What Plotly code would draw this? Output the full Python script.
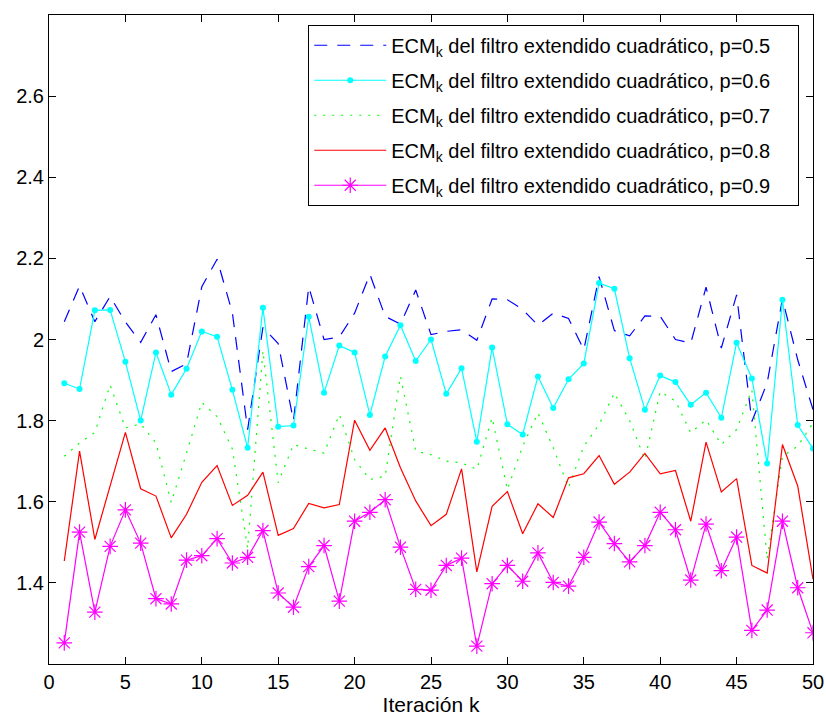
import plotly.graph_objects as go

k = list(range(1, 51))

p05 = [2.044, 2.132, 2.044, 2.106, 2.043, 1.993, 2.061, 1.921, 1.940, 2.130,
       2.198, 2.066, 1.778, 2.030, 1.990, 1.800, 2.130, 2.000, 2.006, 2.065,
       2.161, 2.057, 2.038, 2.122, 2.012, 2.020, 2.024, 1.998, 2.100, 2.098,
       2.074, 2.035, 2.065, 2.052, 1.975, 2.155, 2.022, 2.009, 2.058, 2.057,
       2.000, 1.991, 2.129, 1.979, 2.110, 1.798, 1.893, 2.100, 1.950, 1.827]

p06 = [1.892, 1.878, 2.072, 2.073, 1.945, 1.800, 1.968, 1.864, 1.928, 2.020,
       2.007, 1.876, 1.733, 2.078, 1.785, 1.788, 2.056, 1.869, 1.985, 1.968,
       1.814, 1.958, 2.035, 1.947, 2.000, 1.866, 1.929, 1.748, 1.980, 1.791,
       1.766, 1.909, 1.831, 1.902, 1.941, 2.139, 2.125, 1.954, 1.827, 1.911,
       1.895, 1.839, 1.869, 1.807, 1.992, 1.904, 1.694, 2.098, 1.789, 1.731]

p07 = [1.712, 1.745, 1.771, 1.888, 1.782, 1.792, 1.745, 1.598, 1.720, 1.845,
       1.810, 1.730, 1.485, 1.972, 1.647, 1.741, 1.730, 1.720, 1.815, 1.704,
       1.655, 1.663, 1.910, 1.725, 1.716, 1.700, 1.696, 1.680, 1.807, 1.630,
       1.737, 1.819, 1.733, 1.635, 1.737, 1.790, 1.868, 1.800, 1.704, 1.872,
       1.848, 1.770, 1.802, 1.741, 1.778, 1.876, 1.458, 1.712, 1.737, 1.794]

p08 = [1.454, 1.725, 1.507, 1.638, 1.771, 1.632, 1.614, 1.511, 1.569, 1.648,
       1.689, 1.591, 1.616, 1.673, 1.517, 1.534, 1.596, 1.585, 1.593, 1.801,
       1.727, 1.782, 1.684, 1.602, 1.541, 1.569, 1.681, 1.427, 1.589, 1.625,
       1.521, 1.595, 1.561, 1.659, 1.669, 1.714, 1.643, 1.673, 1.719, 1.669,
       1.677, 1.552, 1.747, 1.624, 1.657, 1.443, 1.424, 1.741, 1.639, 1.409]

p09 = [1.252, 1.525, 1.328, 1.490, 1.580, 1.498, 1.361, 1.348, 1.456, 1.467,
       1.509, 1.449, 1.463, 1.529, 1.375, 1.340, 1.440, 1.492, 1.355, 1.552,
       1.574, 1.605, 1.488, 1.384, 1.382, 1.443, 1.461, 1.244, 1.398, 1.443,
       1.404, 1.474, 1.401, 1.392, 1.463, 1.550, 1.497, 1.452, 1.492, 1.574,
       1.531, 1.407, 1.545, 1.430, 1.513, 1.283, 1.333, 1.552, 1.388, 1.277]

labels = ["ECM<sub>k</sub> del filtro extendido cuadrático, p=0.5",
          "ECM<sub>k</sub> del filtro extendido cuadrático, p=0.6",
          "ECM<sub>k</sub> del filtro extendido cuadrático, p=0.7",
          "ECM<sub>k</sub> del filtro extendido cuadrático, p=0.8",
          "ECM<sub>k</sub> del filtro extendido cuadrático, p=0.9"]
pad = "\u00a0" * 4

x_ticks = [0, 5, 10, 15, 20, 25, 30, 35, 40, 45, 50]
y_ticks = [1.4, 1.6, 1.8, 2.0, 2.2, 2.4, 2.6]
y_tick_text = ["1.4", "1.6", "1.8", "2", "2.2", "2.4", "2.6"]

fig = go.Figure()
fig.add_trace(go.Scatter(x=k, y=p05, mode="lines", name=labels[0] + pad, legendgroup="g1",
                         line=dict(color="#0000FF", width=1.2, dash="13px,10px")))
fig.add_trace(go.Scatter(x=k, y=p06, mode="lines+markers", name=labels[1] + pad, legendgroup="g2",
                         line=dict(color="#00FFFF", width=1.2),
                         marker=dict(color="#00FFFF", size=6, symbol="circle")))
fig.add_trace(go.Scatter(x=k, y=p07, mode="lines", name=labels[2] + pad, legendgroup="g3",
                         line=dict(color="#00FF00", width=1.2, dash="2px,7px")))
fig.add_trace(go.Scatter(x=k, y=p08, mode="lines", name=labels[3] + pad, legendgroup="g4",
                         line=dict(color="#FF0000", width=1.2)))
fig.add_trace(go.Scatter(x=k, y=p09, mode="lines+markers", name=labels[4] + pad, legendgroup="g5",
                         line=dict(color="#FF00FF", width=1.2),
                         marker=dict(color="#FF00FF", size=13, symbol="asterisk-open",
                                     line=dict(color="#FF00FF", width=1.2))))

axis_common = dict(showline=True, linecolor="black", linewidth=1, mirror="ticks",
                   ticks="inside", ticklen=7, tickcolor="black", showgrid=False,
                   zeroline=False, automargin=False,
                   tickfont=dict(size=20, color="black"))

fig.update_layout(
    width=826, height=718,
    margin=dict(l=49, r=13, t=15, b=54),
    paper_bgcolor="white", plot_bgcolor="white",
    font=dict(family="Liberation Sans, Arial, sans-serif", size=20, color="black"),
    xaxis=dict(range=[0, 50], tickvals=x_ticks,
               title=dict(text="Iteración k", font=dict(size=21), standoff=2),
               **axis_common),
    yaxis=dict(range=[1.2, 2.8], tickvals=y_ticks, ticktext=y_tick_text, **axis_common),
    legend=dict(x=0.982, y=0.985, xanchor="right", yanchor="top",
                bgcolor="white", bordercolor="black", borderwidth=1,
                font=dict(size=20), itemwidth=72, traceorder="grouped",
                tracegroupgap=6),
    showlegend=True,
)

fig.write_html("out.html", config={"displayModeBar": False},
               post_script="document.body.style.margin='0';document.body.style.overflow='hidden';")
